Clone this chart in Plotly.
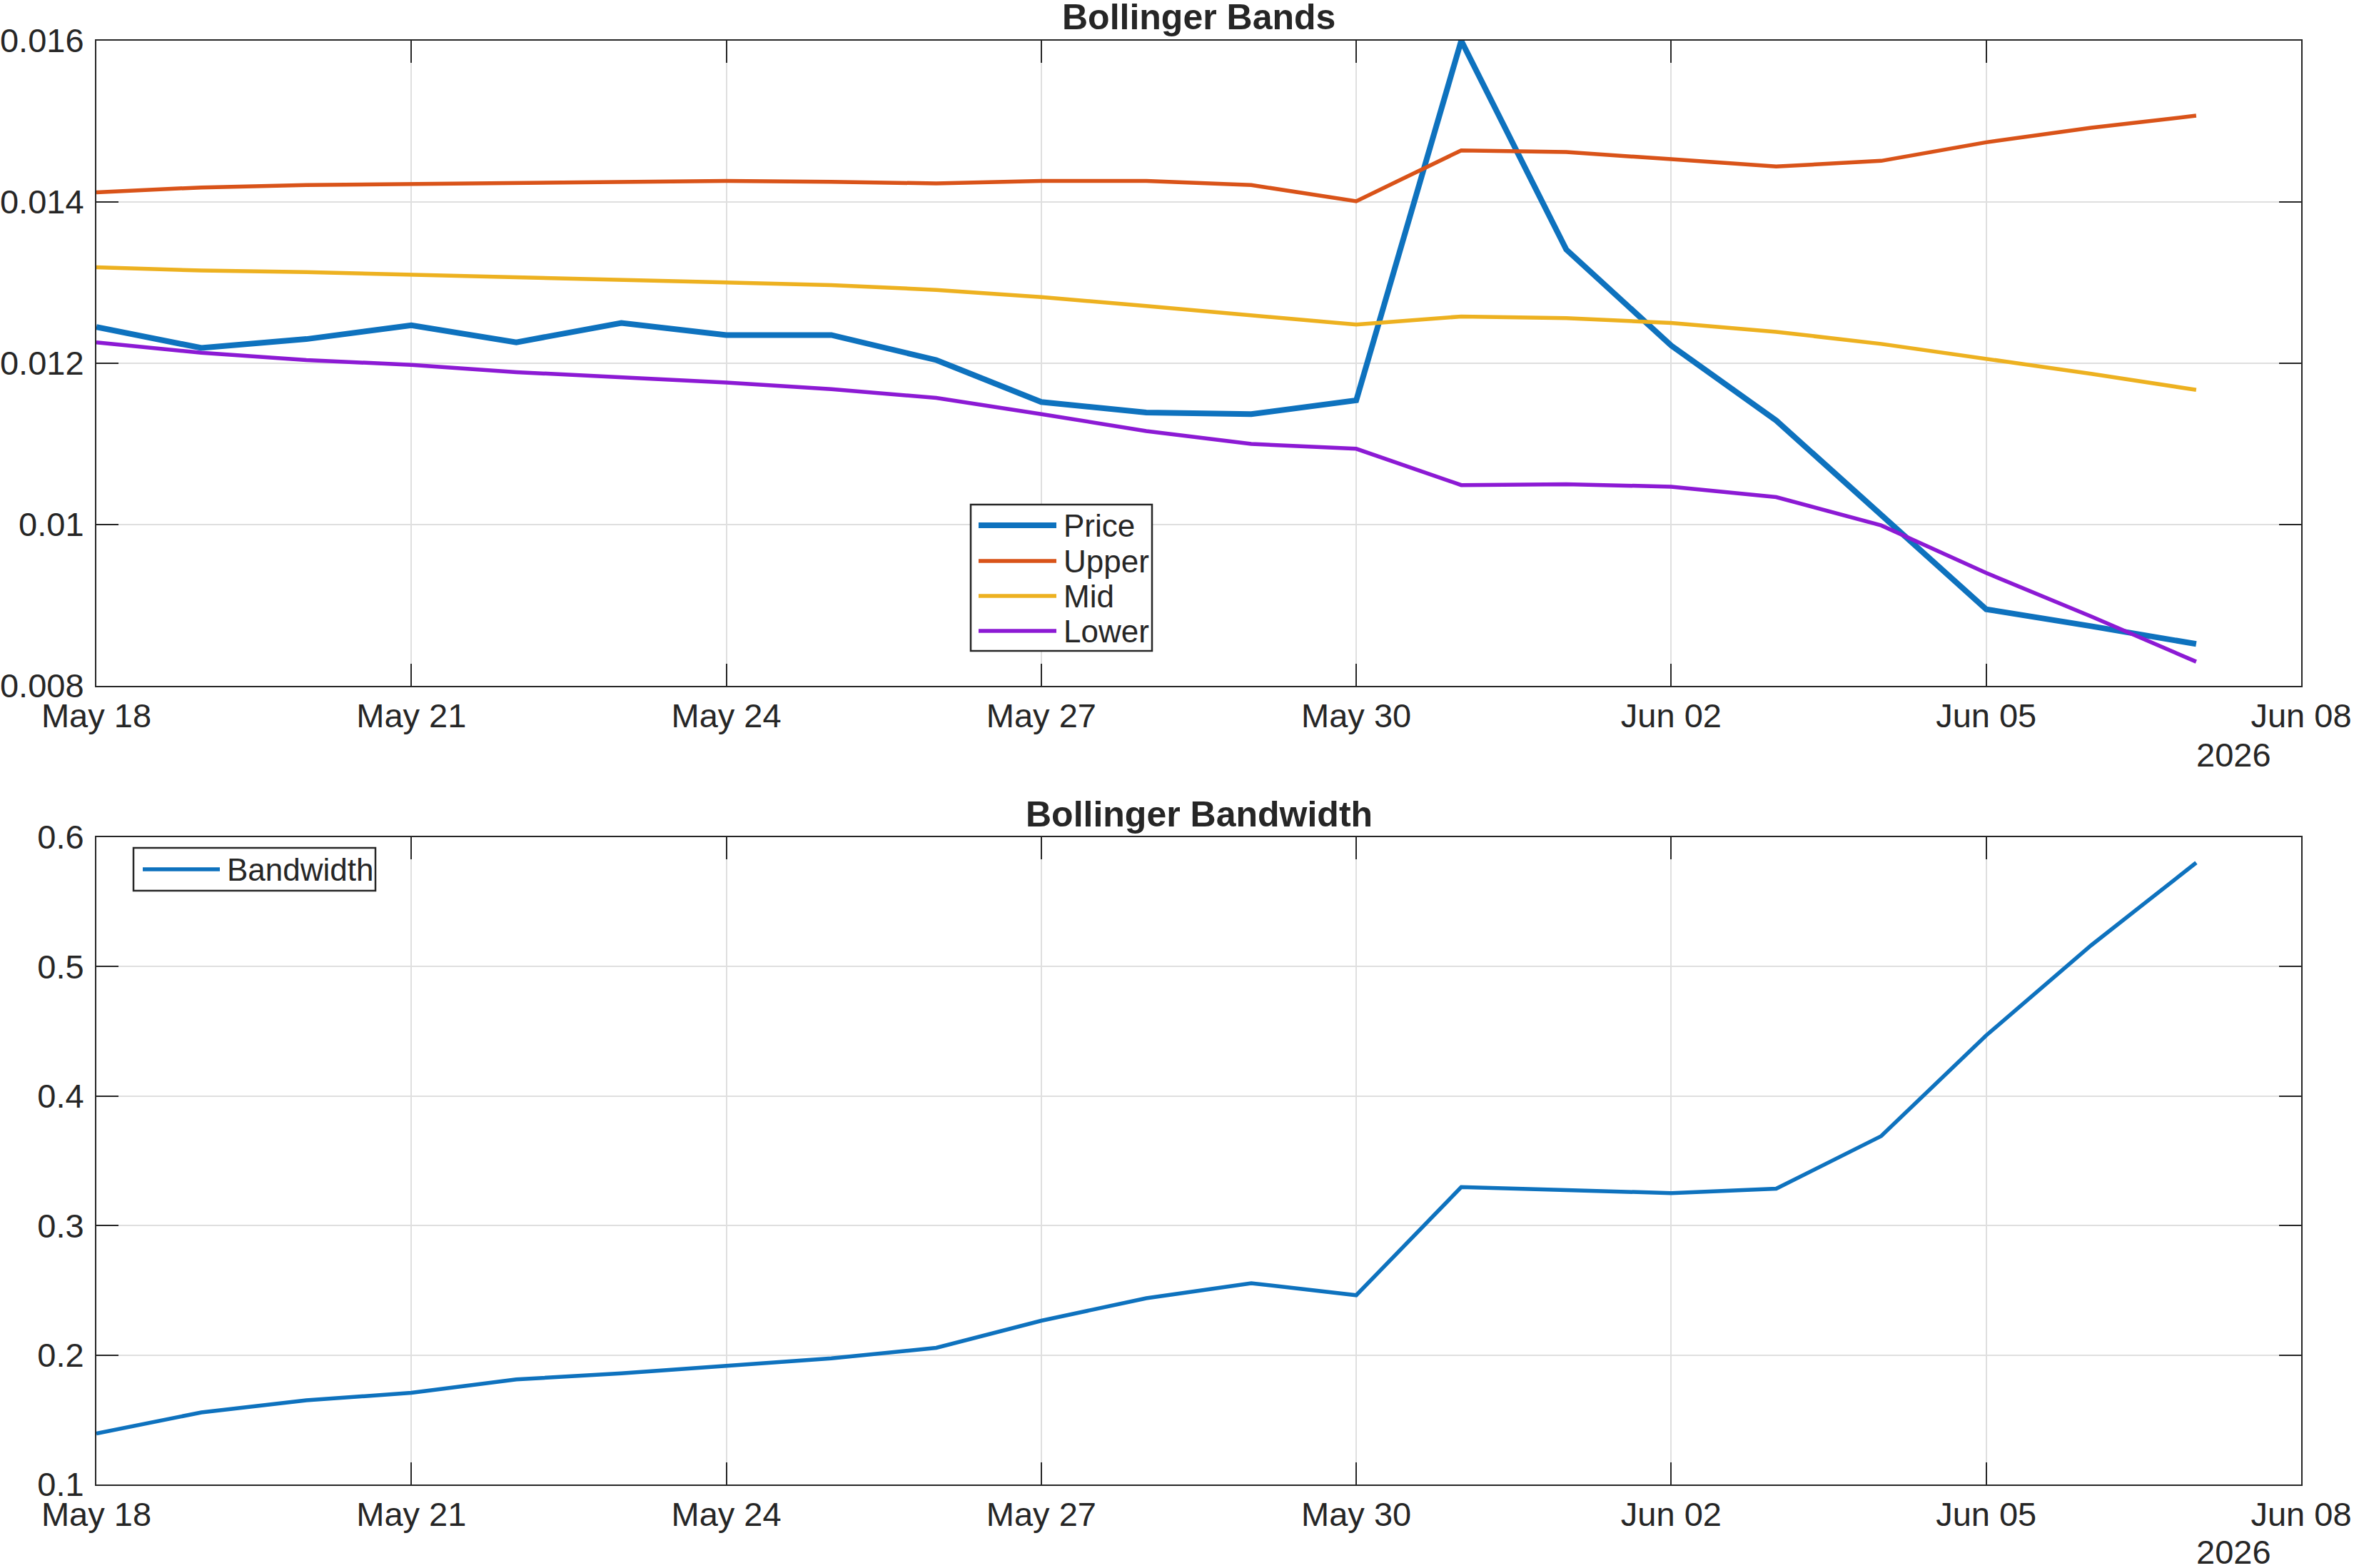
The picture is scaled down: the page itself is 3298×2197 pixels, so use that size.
import plotly.graph_objects as go

dates = ["2026-05-18", "2026-05-19", "2026-05-20", "2026-05-21", "2026-05-22", "2026-05-23",
         "2026-05-24", "2026-05-25", "2026-05-26", "2026-05-27", "2026-05-28", "2026-05-29",
         "2026-05-30", "2026-05-31", "2026-06-01", "2026-06-02", "2026-06-03", "2026-06-04",
         "2026-06-05", "2026-06-06", "2026-06-07"]

price = [0.01245, 0.01219, 0.01230, 0.01247, 0.01226, 0.01250, 0.01235, 0.01235, 0.01204,
         0.01152, 0.01139, 0.01137, 0.01154, 0.01600, 0.01341, 0.01222, 0.01129, 0.01012,
         0.00895, 0.00874, 0.00852]
upper = [0.01412, 0.01418, 0.01421, 0.01422, 0.01424, 0.01425, 0.01426, 0.01425, 0.01423,
         0.01426, 0.01426, 0.01421, 0.01401, 0.01464, 0.01462, 0.01453, 0.01444, 0.01451,
         0.01474, 0.01492, 0.01507]
mid = [0.01319, 0.01315, 0.01313, 0.01310, 0.01306, 0.01304, 0.01301, 0.01297, 0.01291,
       0.01282, 0.01271, 0.01260, 0.01248, 0.01258, 0.01256, 0.01250, 0.01239, 0.01224,
       0.01206, 0.01187, 0.01167]
lower = [0.01226, 0.01213, 0.01204, 0.01198, 0.01189, 0.01183, 0.01176, 0.01168, 0.01157,
         0.01137, 0.01116, 0.01100, 0.01094, 0.01049, 0.01050, 0.01047, 0.01034, 0.00999,
         0.00940, 0.00886, 0.00830]
bandwidth = [0.1394, 0.1557, 0.1650, 0.1708, 0.1812, 0.1858, 0.1916, 0.1974, 0.2056,
             0.2265, 0.2439, 0.2555, 0.2462, 0.3297, 0.3274, 0.3251, 0.3285, 0.3691,
             0.4469, 0.5165, 0.5803]

top_yticks = [0.008, 0.01, 0.012, 0.014, 0.016]
top_yticktext = ["0.008", "0.01", "0.012", "0.014", "0.016"]
bot_yticks = [0.1, 0.2, 0.3, 0.4, 0.5, 0.6]
bot_yticktext = ["0.1", "0.2", "0.3", "0.4", "0.5", "0.6"]

FONT = "Arial, Liberation Sans, sans-serif"
AX = "#262626"
GRID = "#DFDFDF"
C_PRICE = "#0E72BE"
C_UPPER = "#D95319"
C_MID = "#EDB120"
C_LOWER = "#8C1AD4"
C_BW = "#0E72BE"

W, H = 3298, 2197
xl, xr = 135 / W, 3224 / W

series_top = [("Price", price, C_PRICE, 8), ("Upper", upper, C_UPPER, 5.5),
              ("Mid", mid, C_MID, 5.5), ("Lower", lower, C_LOWER, 5.5)]

fig = go.Figure()
for name, vals, col, wd in series_top:
    fig.add_trace(go.Scatter(x=dates, y=vals, name=name, mode="lines",
                             line=dict(color=col, width=wd), xaxis="x", yaxis="y",
                             showlegend=False))
fig.add_trace(go.Scatter(x=dates, y=bandwidth, name="Bandwidth", mode="lines",
                         line=dict(color=C_BW, width=5.5), xaxis="x2", yaxis="y2",
                         showlegend=False))

xcommon = dict(
    type="date", range=["2026-05-18", "2026-06-08"], tick0="2026-05-18", dtick=3 * 86400000,
    tickformat="%b %d", ticks="inside", ticklen=31, tickwidth=2, tickcolor=AX,
    showline=True, linecolor=AX, linewidth=2, mirror="ticks",
    showgrid=True, gridcolor=GRID, gridwidth=2, zeroline=False, automargin=False,
    tickfont=dict(family=FONT, size=47, color=AX), domain=[xl, xr],
)
ycommon = dict(
    ticks="inside", ticklen=31, tickwidth=2, tickcolor=AX,
    showline=True, linecolor=AX, linewidth=2, mirror="ticks",
    showgrid=True, gridcolor=GRID, gridwidth=2, zeroline=False, automargin=False,
    tickfont=dict(family=FONT, size=47, color=AX), ticklabelstandoff=6,
)

fig.update_layout(
    width=W, height=H, margin=dict(l=0, r=0, t=0, b=0, autoexpand=False),
    paper_bgcolor="white", plot_bgcolor="white",
    xaxis=dict(**xcommon, anchor="y"),
    yaxis=dict(**ycommon, range=[0.008, 0.016], tickvals=top_yticks, ticktext=top_yticktext,
               domain=[1 - 961 / H, 1 - 57 / H], anchor="x"),
    xaxis2=dict(**xcommon, anchor="y2"),
    yaxis2=dict(**ycommon, range=[0.1, 0.6], tickvals=bot_yticks, ticktext=bot_yticktext,
                domain=[1 - 2080 / H, 1 - 1173 / H], anchor="x2"),
    showlegend=False,
)

annots = [
    dict(text="<b>Bollinger Bands</b>", xref="x domain", yref="paper", x=0.5, y=1 - 24 / H,
         xanchor="center", yanchor="middle", showarrow=False,
         font=dict(family=FONT, size=50, color=AX)),
    dict(text="<b>Bollinger Bandwidth</b>", xref="x2 domain", yref="paper", x=0.5, y=1 - 1141 / H,
         xanchor="center", yanchor="middle", showarrow=False,
         font=dict(family=FONT, size=50, color=AX)),
    dict(text="2026", xref="x domain", yref="y domain", x=1, y=0, xshift=-40, yshift=-96,
         xanchor="right", yanchor="middle", showarrow=False,
         font=dict(family=FONT, size=47, color=AX)),
    dict(text="2026", xref="x2 domain", yref="y2 domain", x=1, y=0, xshift=-40, yshift=-94,
         xanchor="right", yanchor="middle", showarrow=False,
         font=dict(family=FONT, size=47, color=AX)),
]
shapes = []

# legend for the top panel (MATLAB-style box with long sample lines)
shapes.append(dict(type="rect", xref="paper", yref="paper",
                   x0=1360 / W, x1=1614 / W, y0=1 - 912 / H, y1=1 - 707 / H,
                   line=dict(color=AX, width=2.5), fillcolor="white", layer="above"))
leg_y = [736, 786, 835, 884]
for (name, vals, col, wd), yy in zip(series_top, leg_y):
    shapes.append(dict(type="line", xref="paper", yref="paper",
                       x0=1371 / W, x1=1480 / W, y0=1 - yy / H, y1=1 - yy / H,
                       line=dict(color=col, width=wd), layer="above"))
    annots.append(dict(text=name, xref="paper", yref="paper", x=1488 / W, y=1 - yy / H,
                       xanchor="left", yanchor="middle", showarrow=False,
                       font=dict(family=FONT, size=44, color=AX)))

# legend for the bottom panel
shapes.append(dict(type="rect", xref="paper", yref="paper",
                   x0=187 / W, x1=526 / W, y0=1 - 1248 / H, y1=1 - 1188 / H,
                   line=dict(color=AX, width=2.5), fillcolor="white", layer="above"))
shapes.append(dict(type="line", xref="paper", yref="paper",
                   x0=200 / W, x1=308 / W, y0=1 - 1218 / H, y1=1 - 1218 / H,
                   line=dict(color=C_BW, width=5.5), layer="above"))
annots.append(dict(text="Bandwidth", xref="paper", yref="paper", x=316 / W, y=1 - 1218 / H,
                   xanchor="left", yanchor="middle", showarrow=False,
                   font=dict(family=FONT, size=44, color=AX)))

fig.update_layout(annotations=annots, shapes=shapes)

fig.write_html("out.html")
